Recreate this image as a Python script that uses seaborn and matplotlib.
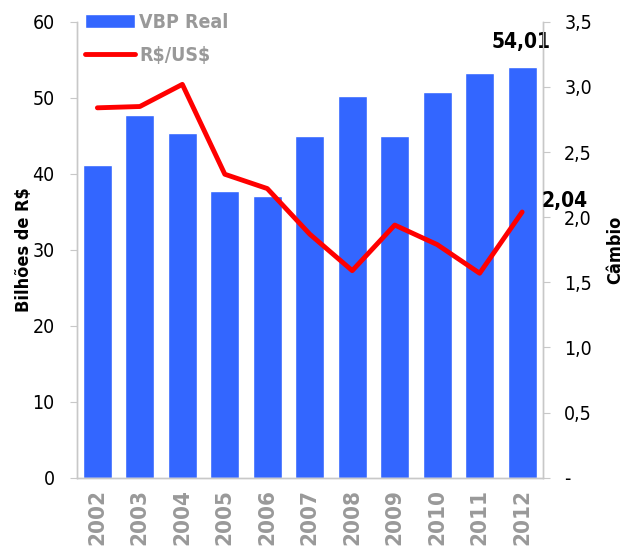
import numpy as np
import pandas as pd
import matplotlib
matplotlib.use("Agg")
import matplotlib.pyplot as plt
import seaborn as sns

# data
anos = ["2002", "2003", "2004", "2005", "2006", "2007", "2008", "2009", "2010", "2011", "2012"]
vbp_real = [41.2, 47.8, 45.4, 37.8, 37.1, 45.0, 50.3, 45.0, 50.8, 53.3, 54.01]
cambio = [2.84, 2.85, 3.02, 2.33, 2.22, 1.87, 1.59, 1.94, 1.79, 1.57, 2.04]
right_ticks = [0, 0.5, 1.0, 1.5, 2.0, 2.5, 3.0, 3.5]
right_labels = ["-", "0,5", "1,0", "1,5", "2,0", "2,5", "3,0", "3,5"]

sns.set_style("white")
plt.rcParams['font.family'] = ['DejaVu Sans', 'Liberation Sans']
plt.rcParams['font.stretch'] = 'condensed'
plt.rcParams['text.color'] = 'black'
plt.rcParams['axes.labelcolor'] = 'black'
plt.rcParams['ytick.labelcolor'] = 'black'

df = pd.DataFrame({"ano": anos, "vbp": vbp_real, "cambio": cambio})

fig = plt.figure(figsize=(6.26, 5.46), dpi=100)
ax = fig.add_axes([0.123, 0.125, 0.745, 0.835])

sns.barplot(data=df, x="ano", y="vbp", color="#3366FF", saturation=1, width=0.68,
            ax=ax, label="VBP Real")
ax.set_ylim(0, 60)
ax.set_xlim(-0.48, 10.5)
ax.set_yticks(range(0, 61, 10))
ax.set_ylabel("Bilhões de R$", fontsize=13, fontweight="bold", labelpad=0)
ax.set_xlabel("")
ax.tick_params(axis="y", labelsize=14, length=5, color="#c8c8c8", direction="out", left=True, pad=11)
ax.tick_params(axis="x", labelsize=16, labelcolor="#999999", rotation=90, length=0, pad=8)
for t in ax.get_xticklabels():
    t.set_fontweight("bold")

ax2 = ax.twinx()
sns.lineplot(data=df, x="ano", y="cambio", color="#FF0000", linewidth=3.5, ax=ax2,
             label=r"R\$/US\$", sort=False)
ax2.set_ylim(0, 3.5)
ax2.set_yticks(right_ticks)
ax2.set_yticklabels(right_labels)
ax2.set_ylabel("Câmbio", fontsize=13, fontweight="bold", labelpad=10)
ax2.tick_params(axis="y", labelsize=14, length=5, color="#c8c8c8", direction="out", right=True, pad=10)

for a in (ax, ax2):
    for side in ("left", "right", "bottom"):
        a.spines[side].set_color("#c8c8c8")
        a.spines[side].set_linewidth(1)
    a.spines["top"].set_visible(False)

# legend
h1, l1 = ax.get_legend_handles_labels()
h2, l2 = ax2.get_legend_handles_labels()
if ax2.get_legend():
    ax2.get_legend().remove()
if ax.get_legend():
    ax.get_legend().remove()
leg = ax2.legend(h1 + h2, l1 + l2, loc="upper left", bbox_to_anchor=(0.017, 1.02), frameon=False,
                 fontsize=14, handlelength=2.6, labelspacing=0.75, handletextpad=0.2,
                 borderaxespad=0, borderpad=0)
for t in leg.get_texts():
    t.set_color("#999999")
    t.set_fontweight("bold")

ax.annotate("54,01", xy=(10, vbp_real[-1]), xytext=(-1, 11), textcoords="offset points",
            ha="center", va="bottom", fontsize=15, fontweight="bold")
ax2.annotate("2,04", xy=(10, cambio[-1]), xytext=(14, 1), textcoords="offset points",
             ha="left", va="bottom", fontsize=15, fontweight="bold")

fig.savefig("out.png", dpi=100)
